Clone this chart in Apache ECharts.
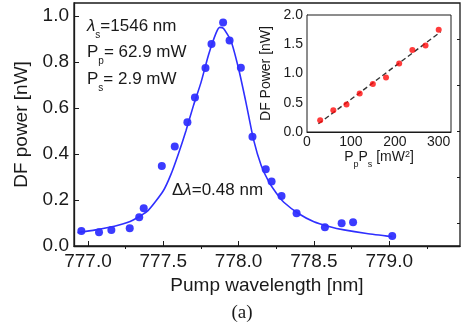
<!DOCTYPE html>
<html>
<head>
<meta charset="utf-8">
<script src="https://cdn.jsdelivr.net/npm/echarts@6/dist/echarts.min.js"></script>
<style>
  html, body { margin: 0; padding: 0; background: #fff; }
  #main { width: 465px; height: 330px; }
</style>
</head>
<body>
<div id="main"></div>
<script>
// measured points, main panel
const wavelength = [776.956, 777.073, 777.155, 777.277, 777.34, 777.37, 777.49, 777.576, 777.66, 777.71, 777.78, 777.82,
  777.897, 777.94, 778.015, 778.092, 778.18, 778.219, 778.285, 778.385, 778.573, 778.684, 778.76, 779.02];
const dfPower = [0.065, 0.06, 0.07, 0.077, 0.125, 0.164, 0.348, 0.432, 0.538, 0.645, 0.774, 0.878,
  0.971, 0.893, 0.775, 0.475, 0.333, 0.28, 0.217, 0.142, 0.081, 0.099, 0.103, 0.043];

// fitted curve
const fitWavelength = [776.93, 777.05, 777.2, 777.3, 777.4, 777.5, 777.55, 777.6, 777.65, 777.7, 777.75, 777.8, 777.85,
  777.875, 777.9, 777.95, 778.0, 778.05, 778.1, 778.15, 778.2, 778.25, 778.3, 778.4, 778.5, 778.6, 778.7, 778.85, 779.02];
const fitPower = [0.058, 0.07, 0.09, 0.113, 0.155, 0.24, 0.31, 0.40, 0.50, 0.61, 0.71, 0.83, 0.925,
  0.95, 0.945, 0.89, 0.77, 0.62, 0.46, 0.35, 0.28, 0.23, 0.19, 0.14, 0.105, 0.085, 0.07, 0.054, 0.04];

// inset
const pumpSignal = [30, 60, 90, 120, 150, 180, 210, 240, 270, 300];
const insetPower = [0.2, 0.37, 0.47, 0.66, 0.82, 0.93, 1.17, 1.40, 1.48, 1.75];
const insetFitX = [26, 304];
const insetFitY = [0.14, 1.71];

const xTicks = [777.0, 777.5, 778.0, 778.5, 779.0];
const xMinor = [777.25, 777.75, 778.25, 778.75, 779.25];
const yTicks = [0, 0.2, 0.4, 0.6, 0.8, 1.0];
const yMinor = [0.1, 0.3, 0.5, 0.7, 0.9];
const insetXTicks = [0, 100, 200, 300];

const font = 'Liberation Sans';
const ink = '#1a1a1a';

// rich styles for text with subscripts (graphic text uses fill)
const noteRich = {
  n: { fontFamily: font, fontSize: 17, fill: ink, lineHeight: 20, verticalAlign: 'top' },
  l: { fontFamily: font, fontSize: 17, fontStyle: 'italic', fill: ink, lineHeight: 20, verticalAlign: 'top' },
  s: { fontFamily: font, fontSize: 10, fill: ink, lineHeight: 22, verticalAlign: 'bottom' }
};

let myChart = echarts.init(document.getElementById('main'));

let option = {
  animation: false,
  grid: [
    { left: 74, top: 3, width: 386, height: 243, show: true, borderColor: ink, borderWidth: 1.3 },
    { left: 307, top: 15, width: 144, height: 117, show: true, borderColor: ink, borderWidth: 1, backgroundColor: '#fff', z: 5 }
  ],
  xAxis: [
    {
      type: 'value', gridIndex: 0, min: 776.907, max: 779.47,
      name: 'Pump wavelength [nm]', nameLocation: 'middle', nameGap: 26,
      nameTextStyle: { fontFamily: font, fontSize: 19, color: ink },
      axisLine: { lineStyle: { color: ink, width: 1.3 } },
      axisTick: { inside: true, length: 5, customValues: xTicks, lineStyle: { color: ink } },
      axisLabel: { customValues: xTicks, margin: 6, fontFamily: font, fontSize: 19, color: ink,
        formatter: v => v.toFixed(1) },
      splitLine: { show: false }
    },
    {
      type: 'value', gridIndex: 0, min: 776.907, max: 779.47,
      axisLine: { show: false },
      axisTick: { inside: true, length: 3, customValues: xMinor, lineStyle: { color: ink } },
      axisLabel: { show: false },
      splitLine: { show: false }
    },
    {
      type: 'value', gridIndex: 1, min: 0, max: 328,
      name: '{a|P}{b|p}{a|P}{b|s}{a| [mW}{c|2}{a|]}', nameLocation: 'middle', nameGap: 16,
      nameTextStyle: {
        rich: {
          a: { fontFamily: font, fontSize: 14, color: ink, lineHeight: 16, verticalAlign: 'top' },
          b: { fontFamily: font, fontSize: 9, color: ink, lineHeight: 19, verticalAlign: 'bottom' },
          c: { fontFamily: font, fontSize: 9, color: ink, lineHeight: 9, verticalAlign: 'top' }
        }
      },
      axisLine: { lineStyle: { color: ink } },
      axisTick: { inside: true, length: 3, customValues: insetXTicks, lineStyle: { color: ink } },
      axisLabel: { customValues: insetXTicks, margin: 3, fontFamily: font, fontSize: 14, color: ink },
      splitLine: { show: false }
    }
  ],
  yAxis: [
    {
      type: 'value', gridIndex: 0, min: 0, max: 1.056,
      name: 'DF power [nW]', nameLocation: 'middle', nameGap: 34,
      nameTextStyle: { fontFamily: font, fontSize: 19, color: ink },
      axisLine: { lineStyle: { color: ink, width: 1.3 } },
      axisTick: { inside: true, length: 5, customValues: yTicks, lineStyle: { color: ink } },
      axisLabel: { customValues: yTicks, margin: 5, fontFamily: font, fontSize: 19, color: ink,
        formatter: v => v.toFixed(1) },
      splitLine: { show: false }
    },
    {
      type: 'value', gridIndex: 0, min: 0, max: 1.056,
      axisLine: { show: false },
      axisTick: { inside: true, length: 3, customValues: yMinor, lineStyle: { color: ink } },
      axisLabel: { show: false },
      splitLine: { show: false }
    },
    {
      type: 'value', gridIndex: 1, min: 0, max: 2, interval: 0.5,
      name: 'DF Power [nW]', nameLocation: 'middle', nameGap: 34,
      nameTextStyle: { fontFamily: font, fontSize: 14, color: ink },
      axisLine: { lineStyle: { color: ink } },
      axisTick: { inside: true, length: 3, lineStyle: { color: ink } },
      axisLabel: { margin: 4, fontFamily: font, fontSize: 14, color: ink, formatter: v => v.toFixed(1) },
      splitLine: { show: false }
    }
  ],
  series: [
    {
      type: 'line', xAxisIndex: 0, yAxisIndex: 0,
      data: fitWavelength.map((x, i) => [x, fitPower[i]]),
      smooth: 0.2, showSymbol: false,
      lineStyle: { color: '#2f2fff', width: 1.6 }
    },
    {
      type: 'scatter', xAxisIndex: 0, yAxisIndex: 0,
      data: wavelength.map((x, i) => [x, dfPower[i]]),
      symbolSize: 8, itemStyle: { color: '#0a0aff' }
    },
    {
      type: 'line', xAxisIndex: 2, yAxisIndex: 2, z: 6,
      data: insetFitX.map((x, i) => [x, insetFitY[i]]),
      showSymbol: false,
      lineStyle: { color: '#333', width: 1.4, type: [5, 3] }
    },
    {
      type: 'scatter', xAxisIndex: 2, yAxisIndex: 2, z: 7,
      data: pumpSignal.map((x, i) => [x, insetPower[i]]),
      symbolSize: 6, itemStyle: { color: '#ff0a0a' }
    }
  ],
  graphic: [
    { type: 'text', x: 87, y: 18, style: { text: '{l|λ}{s|s}{n|=1546 nm}', rich: noteRich } },
    { type: 'text', x: 87, y: 44, style: { text: '{n|P}{s|p}{n|= 62.9 mW}', rich: noteRich } },
    { type: 'text', x: 87, y: 71, style: { text: '{n|P}{s|s}{n|= 2.9 mW}', rich: noteRich } },
    { type: 'text', x: 172, y: 182, style: { text: '{n|Δ}{l|λ}{n|=0.48 nm}', rich: noteRich } },
    {
      type: 'text', x: 242, y: 313,
      style: { text: '(a)', fontFamily: 'Liberation Serif', fontSize: 19, fill: ink, align: 'center', verticalAlign: 'middle' }
    }
  ]
};
myChart.setOption(option);
</script>
</body>
</html>
